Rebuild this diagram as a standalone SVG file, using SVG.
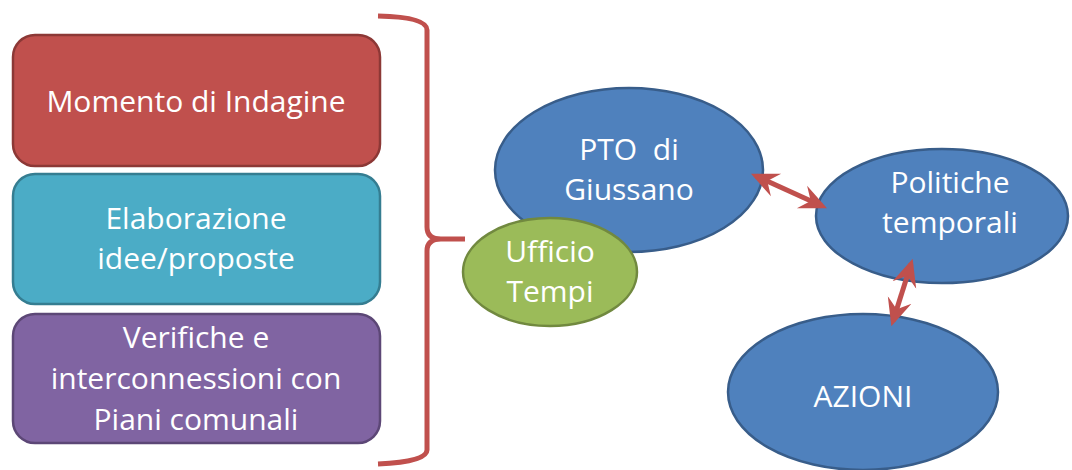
<svg xmlns="http://www.w3.org/2000/svg" width="1072" height="470" viewBox="0 0 1072 470">
<style>
.t{font-family:"Open Sans",Lato,"Liberation Sans",sans-serif;font-size:30px;fill:#ffffff;text-anchor:middle;font-variant-ligatures:none}
.box{stroke-width:2.5}
.ell{stroke-width:2.5}
.blue{fill:#4F81BD;stroke:#385D8A}
.conn{fill:none;stroke:#C0504D;stroke-width:5}
</style>
<defs>
<marker id="ah" viewBox="0 0 10 10" refX="8" refY="5" markerWidth="5.5" markerHeight="5.5" orient="auto-start-reverse" markerUnits="strokeWidth">
<path d="M0,0.5 L10,5 L0,9.5 L3.5,5 Z" fill="#C0504D"/>
</marker>
</defs>
<rect width="1072" height="470" fill="#ffffff"/>
<g id="momento">
<rect class="box" x="13" y="35" width="367" height="131" rx="22" fill="#C0504D" stroke="#8C3836"/>
<text class="t" x="196" y="112">Momento di Indagine</text>
</g>
<g id="elaborazione">
<rect class="box" x="13" y="174" width="367" height="130" rx="22" fill="#4BACC6" stroke="#357D91"/>
<text class="t" x="196" y="229">Elaborazione</text>
<text class="t" x="196" y="269">idee/proposte</text>
</g>
<g id="verifiche">
<rect class="box" x="13" y="314" width="367" height="129" rx="22" fill="#8064A2" stroke="#5C4776"/>
<text class="t" x="196" y="348">Verifiche e</text>
<text class="t" x="196" y="389">interconnessioni con</text>
<text class="t" x="196" y="430">Piani comunali</text>
</g>
<g id="pto">
<ellipse class="ell blue" cx="629" cy="170" rx="134" ry="82"/>
<text class="t" x="629" y="160" xml:space="preserve">PTO  di</text>
<text class="t" x="629" y="200">Giussano</text>
</g>
<g id="ufficio">
<ellipse class="ell" cx="550" cy="272" rx="87" ry="54" fill="#9BBB59" stroke="#71893F"/>
<text class="t" x="550" y="262">Ufficio</text>
<text class="t" x="550" y="302">Tempi</text>
</g>
<g id="politiche">
<ellipse class="ell blue" cx="942" cy="216" rx="126" ry="67"/>
<text class="t" x="950" y="193">Politiche</text>
<text class="t" x="950" y="233">temporali</text>
</g>
<g id="azioni">
<ellipse class="ell blue" cx="863" cy="392" rx="135" ry="78"/>
<text class="t" x="863" y="407">AZIONI</text>
</g>
<g id="connectors">
<path class="conn" d="M378,16 Q427,17 427,30 V227 Q427,239 441,239 H465 M441,239 Q427,239 427,251 V450 Q427,462 378,464"/>
<line class="conn" x1="756" y1="176" x2="822" y2="206" marker-start="url(#ah)" marker-end="url(#ah)"/>
<line class="conn" x1="911" y1="264" x2="893" y2="321" marker-start="url(#ah)" marker-end="url(#ah)"/>
</g>
</svg>
